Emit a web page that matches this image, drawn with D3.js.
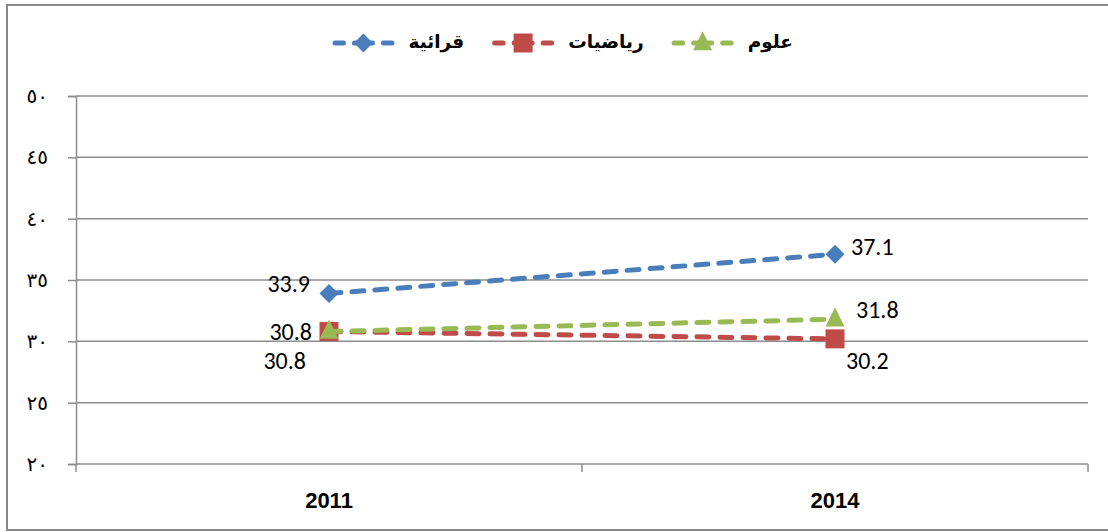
<!DOCTYPE html>
<html>
<head>
<meta charset="utf-8">
<script src="https://cdn.jsdelivr.net/npm/d3@7"></script>
<style>
  html, body { margin: 0; padding: 0; background: #fff; }
  svg { display: block; }
</style>
</head>
<body>
<div id="chart"></div>
<script>
// Years on the category axis
const years = ["2011", "2014"];

// Series values per year
const reading = [33.9, 37.1];   // قرائية
const maths   = [30.8, 30.2];   // رياضيات
const science = [30.8, 31.8];   // علوم

// Value axis ticks and their Eastern Arabic labels
const yTicks      = [20, 25, 30, 35, 40, 45, 50];
const yTickLabels = ["٢٠", "٢٥", "٣٠", "٣٥", "٤٠", "٤٥", "٥٠"];

const seriesNames = ["قرائية", "رياضيات", "علوم"];

const W = 1108, H = 532;
const plot = { left: 76, right: 1088, top: 96, bottom: 464 };

const svg = d3.select("#chart").append("svg")
  .attr("width", W).attr("height", H);

// Outer frame (right edge runs past the page)
svg.append("rect")
  .attr("x", 7).attr("y", 5)
  .attr("width", 1110).attr("height", 525)
  .attr("fill", "none").attr("stroke", "#898989").attr("stroke-width", 2);

const x = d3.scaleBand().domain(years).range([plot.left, plot.right]);
const y = d3.scaleLinear().domain([20, 50]).range([plot.bottom, plot.top]);

// Horizontal gridlines
svg.append("g").selectAll("line").data(yTicks).join("line")
  .attr("x1", plot.left).attr("x2", plot.right)
  .attr("y1", d => y(d)).attr("y2", d => y(d))
  .attr("stroke", "#8c8c8c").attr("stroke-width", 1.5);

// Value axis
const yAxis = d3.axisLeft(y)
  .tickValues(yTicks)
  .tickFormat((d, i) => yTickLabels[i])
  .tickSize(8)
  .tickPadding(20);
const gy = svg.append("g").attr("transform", `translate(${plot.left},0)`).call(yAxis);
gy.select(".domain").attr("stroke", "#8c8c8c").attr("stroke-width", 1.5);
gy.selectAll(".tick line").attr("stroke", "#8c8c8c").attr("stroke-width", 1.5);
gy.selectAll(".tick text")
  .attr("font-family", "'DejaVu Sans', sans-serif")
  .attr("font-size", 20).attr("fill", "#000");

// Category axis
const xAxis = d3.axisBottom(x).tickSize(0).tickPadding(28);
const gx = svg.append("g").attr("transform", `translate(0,${plot.bottom})`).call(xAxis);
gx.select(".domain").remove();
gx.selectAll(".tick text")
  .attr("font-family", "'Liberation Sans Narrow', 'Arial Narrow', 'Liberation Sans', sans-serif")
  .attr("font-weight", "bold").attr("font-size", 22).attr("fill", "#000");
// Category boundary ticks
const bounds = [plot.left, plot.left + x.bandwidth(), plot.right];
svg.append("g").selectAll("line").data(bounds).join("line")
  .attr("x1", d => d).attr("x2", d => d)
  .attr("y1", plot.bottom).attr("y2", plot.bottom + 8)
  .attr("stroke", "#8c8c8c").attr("stroke-width", 1.5);

const cx = d => x(d) + x.bandwidth() / 2;

const series = [
  { name: seriesNames[0], values: reading, color: "#4a7ebb", marker: "diamond",
    labels: [{ dx: -19, dy: -7, anchor: "end" }, { dx: 16, dy: -5, anchor: "start" }] },
  { name: seriesNames[1], values: maths, color: "#be4b48", marker: "square",
    labels: [{ dx: -23, dy: 32, anchor: "end" }, { dx: 11, dy: 24, anchor: "start" }] },
  { name: seriesNames[2], values: science, color: "#98b954", marker: "triangle",
    labels: [{ dx: -17, dy: 3, anchor: "end" }, { dx: 21, dy: -7, anchor: "start" }] }
];

function drawMarker(g, type, px, py, color) {
  if (type === "diamond") {
    const r = 9.5;
    g.append("path")
      .attr("d", `M${px},${py - r}L${px + r},${py}L${px},${py + r}L${px - r},${py}Z`)
      .attr("fill", color);
  } else if (type === "square") {
    const s = 19;
    g.append("rect").attr("x", px - s / 2).attr("y", py - s / 2)
      .attr("width", s).attr("height", s).attr("fill", color);
  } else {
    const s = 19;
    g.append("path")
      .attr("d", `M${px},${py - s * 0.62}L${px + s / 2},${py + s * 0.38}L${px - s / 2},${py + s * 0.38}Z`)
      .attr("fill", color);
  }
}

const line = d3.line().x((d, i) => cx(years[i])).y(d => y(d));

series.forEach(s => {
  const g = svg.append("g");
  g.append("path")
    .attr("d", line(s.values))
    .attr("fill", "none").attr("stroke", s.color)
    .attr("stroke-width", 5).attr("stroke-linecap", "round")
    .attr("stroke-dasharray", "12,11");
  s.values.forEach((v, i) => drawMarker(g, s.marker, cx(years[i]), y(v), s.color));
});

// Data labels
series.forEach(s => {
  s.values.forEach((v, i) => {
    const lb = s.labels[i];
    svg.append("text")
      .attr("x", cx(years[i]) + lb.dx)
      .attr("y", y(v) + lb.dy)
      .attr("dominant-baseline", "middle")
      .attr("text-anchor", lb.anchor)
      .attr("font-family", "Carlito, Lato, 'Open Sans', sans-serif")
      .attr("font-size", 24).attr("fill", "#000")
      .text(v.toFixed(1));
  });
});

// Legend, laid out right to left
const legend = svg.append("g");
let right = 793;
const legY = 43;
[series[2], series[1], series[0]].forEach(s => {
  const t = legend.append("text")
    .attr("x", right).attr("y", legY)
    .attr("dominant-baseline", "middle")
    .attr("text-anchor", "end")
    .attr("font-family", "'DejaVu Sans', sans-serif")
    .attr("font-weight", "bold").attr("font-size", 18.5).attr("fill", "#000")
    .text(s.name);
  const w = t.node().getComputedTextLength();
  const symR = right - w - 14;
  const symL = symR - 62;
  const mid = (symL + symR) / 2;
  const segs = [[symL + 2.5, symL + 11], [mid - 9, mid + 9], [symR - 11, symR - 2.5]];
  segs.forEach(([a, b]) => legend.append("line")
    .attr("x1", a).attr("x2", b).attr("y1", legY).attr("y2", legY)
    .attr("stroke", s.color).attr("stroke-width", 5).attr("stroke-linecap", "round"));
  drawMarker(legend, s.marker, mid, legY, s.color);
  right = symL - 28;
});
</script>
</body>
</html>
